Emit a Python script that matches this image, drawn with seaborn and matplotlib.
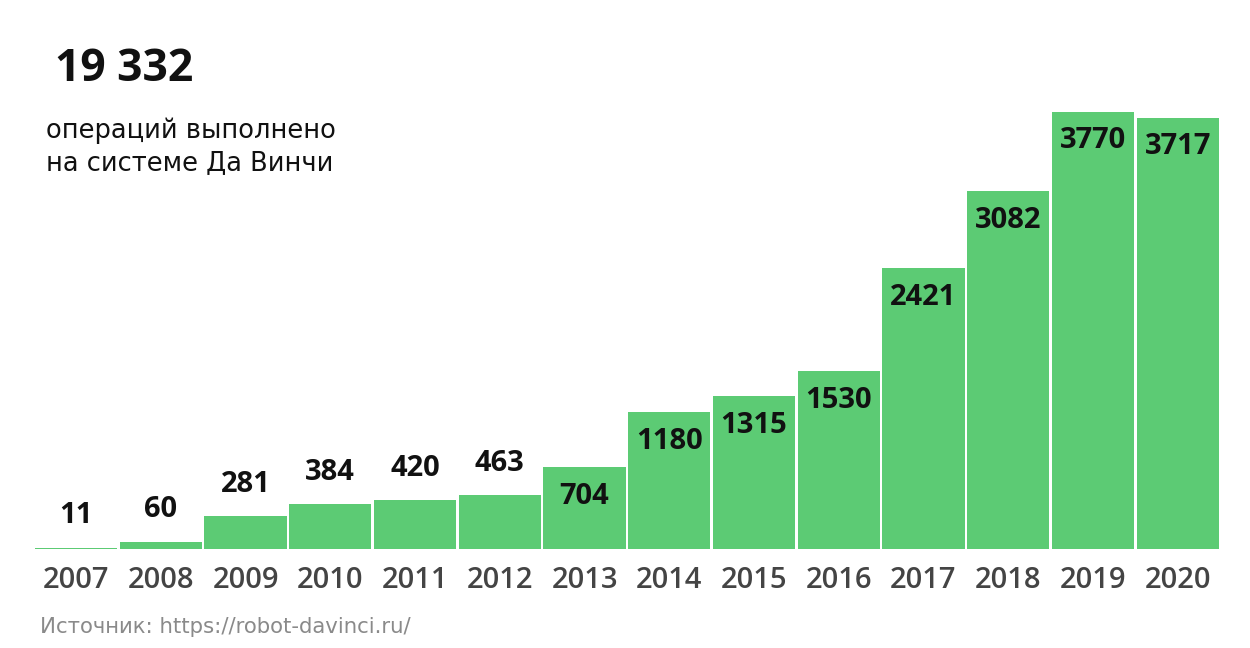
import numpy as np
import pandas as pd
from matplotlib import pyplot as plt

import seaborn as sns

years = ["2007", "2008", "2009", "2010", "2011", "2012", "2013",
         "2014", "2015", "2016", "2017", "2018", "2019", "2020"]
operations = [11, 60, 281, 384, 420, 463, 704,
              1180, 1315, 1530, 2421, 3082, 3770, 3717]
total_label = "19 332"
subtitle = "операций выполнено\nна системе Да Винчи"
source = "Источник: https://robot-davinci.ru/"

GREEN = "#5ccb74"
NUM_FONT = ['Open Sans', 'DejaVu Sans']

sns.set_theme(style="white")
plt.rcParams['font.family'] = ['DejaVu Sans']

df = pd.DataFrame({"year": years, "ops": operations})

fig = plt.figure(figsize=(12.5, 6.48), dpi=100)
ax = fig.add_axes([0.027, 0.153, 0.949, 0.847])

sns.barplot(data=df, x="year", y="ops", color=GREEN, saturation=1,
            width=0.97, edgecolor="white", linewidth=0, ax=ax)

ax.set_ylim(0, 4733)
ax.set_xlim(-0.5, len(years) - 0.5)
ax.set_xlabel("")
ax.set_ylabel("")
ax.set_yticks([])
sns.despine(ax=ax, left=True, bottom=True)
ax.tick_params(axis="x", length=0, pad=12)
for lbl in ax.get_xticklabels():
    lbl.set_family(NUM_FONT)
    lbl.set_fontsize(21)
    lbl.set_fontweight("semibold")
    lbl.set_color("#444444")

# value labels: above short bars, inside the tall ones
for i, v in enumerate(operations):
    offset = 32 if v < 500 else -29
    ax.annotate(str(v), (i, v), xytext=(0, offset), textcoords="offset pixels",
                ha="center", va="center", fontsize=21, fontweight="bold",
                family=NUM_FONT, color="#111111")

fig.text(0.044, 0.893, total_label, fontsize=32, fontweight="bold",
         family=NUM_FONT, color="#111111", ha="left", va="center")
fig.text(0.037, 0.773, subtitle, fontsize=18.5, color="#111111",
         ha="left", va="center", linespacing=1.3)
fig.text(0.032, 0.032, source, fontsize=15.3, color="#8a8a8a",
         ha="left", va="center")

fig.savefig("out.png", dpi=100)
